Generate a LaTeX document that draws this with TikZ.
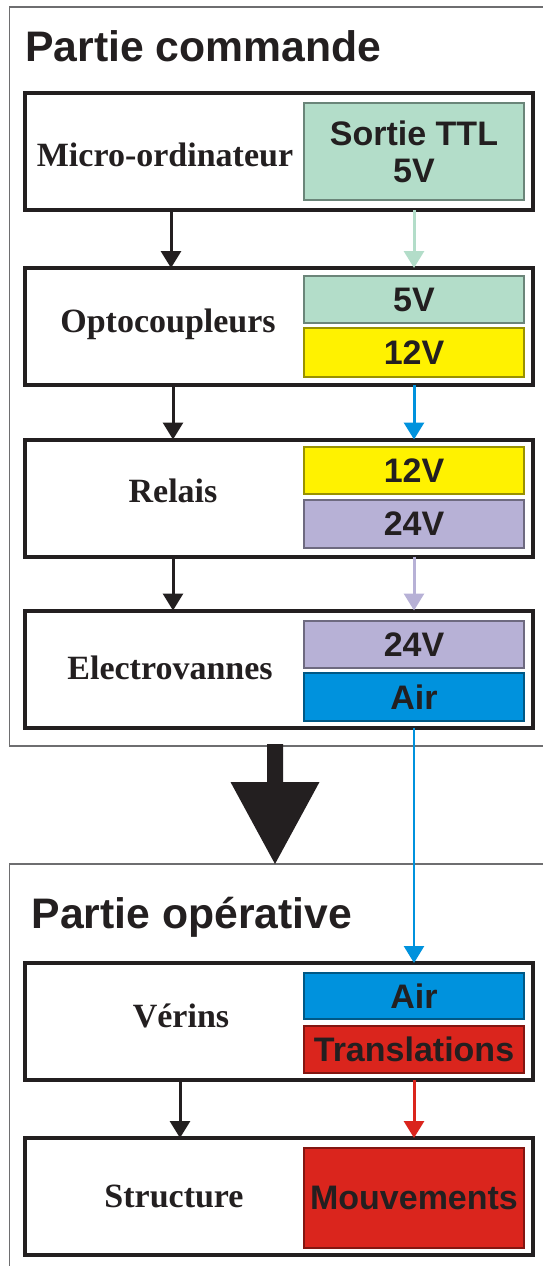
\documentclass[tikz,border=0pt]{standalone}
\usepackage{fontspec}
\setmainfont{Liberation Serif}
\setsansfont{Liberation Sans}
\usepackage{xcolor}
\usepackage{tikz}
\usetikzlibrary{arrows.meta, positioning, calc}
\definecolor{encre}{RGB}{35,31,32}
\definecolor{cadre}{RGB}{110,110,112}
\definecolor{ttlvert}{RGB}{179,221,201}
\definecolor{jaune}{RGB}{255,242,0}
\definecolor{lavande}{RGB}{183,177,214}
\definecolor{airbleu}{RGB}{0,146,221}
\definecolor{rouge}{RGB}{218,37,29}

\begin{document}
\begin{tikzpicture}[x=1pt, y=-1pt,
    bloc/.style={draw=encre, line width=4pt, fill=white, minimum width=508pt,
                 minimum height=117pt, inner sep=0pt, outer sep=0pt},
    tension/.style={draw=#1!60!black, line width=1.2pt, fill=#1, minimum width=220pt,
                    inner sep=0pt, outer sep=0pt, text=encre, align=center,
                    font=\sffamily\bfseries\fontsize{34}{37}\selectfont},
    nom/.style={anchor=base, inner sep=0pt, text=encre,
                font=\bfseries\fontsize{34}{40}\selectfont},
    titre/.style={anchor=base west, inner sep=0pt, text=encre,
                  font=\sffamily\bfseries\fontsize{42.7}{48}\selectfont},
    lien/.style={line width=3pt, -{Triangle[width=20pt, length=17pt]}}]
    \useasboundingbox (0,0) rectangle (543,1266);

    % Cadres des deux parties
    \draw[cadre, line width=1.5pt] (546,7) -- (9.5,7) -- (9.5,746) -- (546,746);
    \draw[cadre, line width=1.5pt] (546,864) -- (9.5,864) -- (9.5,1270);
    \node[titre] (tcommande) at (25,61) {Partie commande};
    \node[titre] (toperative) at (31.5,928) {Partie opérative};

    % Partie commande
    \node[bloc] (micro) at (279,151.5) {};
    \node[nom] (lmicro) at (165,166) {Micro-ordinateur};
    \node[tension=ttlvert, minimum height=97pt] (ttl) at (414,151.5) {Sortie TTL\\5V};

    \node[bloc] (opto) at (279,326.5) {};
    \node[nom] (lopto) at (168,332) {Optocoupleurs};
    \node[tension=ttlvert, minimum height=47pt] (o5) at (414,299.5) {5V};
    \node[tension=jaune, minimum height=49pt] (o12) at (414,352.5) {12V};

    \node[bloc] (relais) at (279,498) {};
    \node[nom] (lrelais) at (173,502) {Relais};
    \node[tension=jaune, minimum height=47pt] (r12) at (414,470.5) {12V};
    \node[tension=lavande, minimum height=48pt] (r24) at (414,524) {24V};

    \node[bloc] (electro) at (279,669) {};
    \node[nom] (lelectro) at (170,679) {Electrovannes};
    \node[tension=lavande, minimum height=47pt] (e24) at (414,644.5) {24V};
    \node[tension=airbleu, minimum height=48pt] (eair) at (414,697) {Air};

    % Partie operative
    \node[bloc] (verins) at (279,1021.5) {};
    \node[nom] (lverins) at (181,1027) {Vérins};
    \node[tension=airbleu, minimum height=46pt] (vair) at (414,996) {Air};
    \node[tension=rouge, minimum height=47pt] (vtrans) at (414,1049.5) {Translations};

    \node[bloc] (struct) at (279,1196.5) {};
    \node[nom] (lstruct) at (174,1207) {Structure};
    \node[tension=rouge, minimum height=100pt] (mouv) at (414,1198) {Mouvements};

    % Liaisons
    \draw[lien, encre] ([xshift=-108pt]micro.south) -- ([xshift=-108pt]opto.north);
    \draw[lien, encre] ([xshift=-106pt]opto.south) -- ([xshift=-106pt]relais.north);
    \draw[lien, encre] ([xshift=-106pt]relais.south) -- ([xshift=-106pt]electro.north);
    \draw[lien, encre] ([xshift=-99pt]verins.south) -- ([xshift=-99pt]struct.north);
    \draw[lien, ttlvert] (micro.south -| ttl) -- (opto.north -| ttl);
    \draw[lien, airbleu] (opto.south -| o12) -- (relais.north -| o12);
    \draw[lien, lavande] (relais.south -| r24) -- (electro.north -| r24);
    \draw[lien, airbleu, line width=2.5pt] (electro.south -| eair) -- (verins.north -| eair);
    \draw[lien, rouge] (verins.south -| vtrans) -- (struct.north -| vtrans);

    % Grosse fleche
    \fill[encre] (267,744) -- (283,744) -- (283,782) -- (319.5,782) -- (275,864)
        -- (230.5,782) -- (267,782) -- cycle;
\end{tikzpicture}
\end{document}
